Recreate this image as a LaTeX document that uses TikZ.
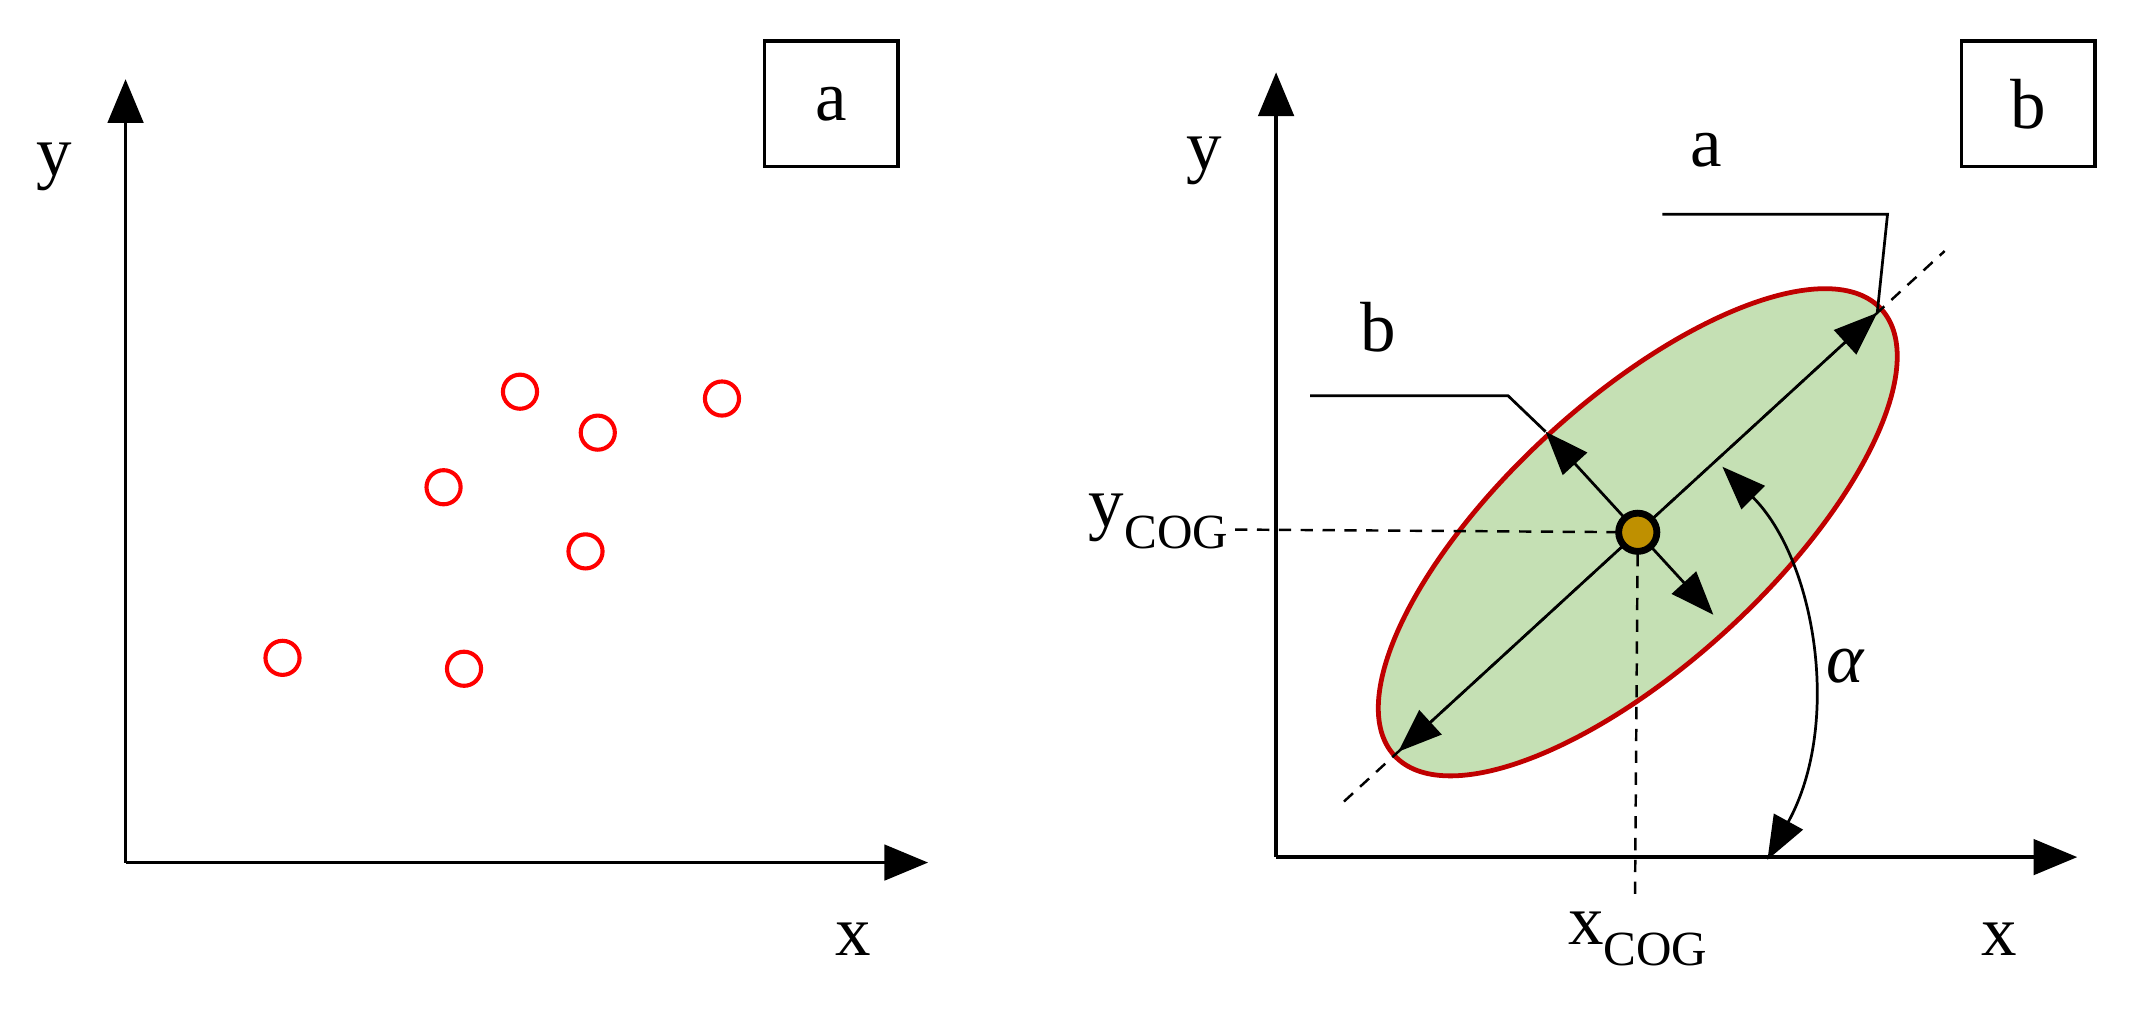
\documentclass[tikz,border=0pt]{standalone}
\usepackage{fontspec}
\setmainfont{Liberation Serif}
\usetikzlibrary{arrows.meta}
\definecolor{ellfill}{RGB}{197,224,180}
\definecolor{ellred}{RGB}{192,0,0}
\definecolor{cog}{RGB}{191,144,0}
\tikzset{
  ax/.style={line width=2.4pt,-{Triangle[length=32pt,width=26pt]}},
  dimarr/.style={line width=2pt,{Triangle[length=32pt,width=24pt]}-{Triangle[length=32pt,width=24pt]}},
  onearr/.style={line width=2pt,-{Triangle[length=32pt,width=24pt]}},
  thin line/.style={line width=2pt},
  dsh/.style={line width=1.8pt,dash pattern=on 9pt off 7pt},
  pt/.style={circle,draw=red,line width=3pt,minimum size=25pt,inner sep=0pt},
  lbl/.style={font=\fontsize{52}{56}\selectfont,inner sep=0pt},
  boxl/.style={draw,line width=2.4pt,minimum width=98pt,minimum height=92pt,font=\fontsize{52}{56}\selectfont},
}
\newcommand{\subCOG}{\raisebox{-0.3em}{\fontsize{36}{40}\selectfont COG}}
\begin{document}
\begin{tikzpicture}[x=1pt,y=-1pt]
\useasboundingbox (0,0) rectangle (1568,739);
% panel a
\coordinate (oa) at (92,632);
\coordinate (ya) at (92,58);
\coordinate (xa) at (680,632);
\draw[ax] (oa) -- (ya);
\draw[ax] (oa) -- (xa);
\node[boxl] (boxa) at (609,76) {a};
\node[lbl] (lya) at (40,122) {y};
\node[lbl] (lxa) at (625,688) {x};
\foreach \n/\p in {p1/{(207,482)},p2/{(340,490)},p3/{(325,357)},p4/{(381,287)},p5/{(438,317)},p6/{(429,404)},p7/{(529,292)}}
  \node[pt] (\n) at \p {};
% panel b
\coordinate (ob) at (935,628);
\coordinate (yb) at (935,53);
\coordinate (xb) at (1522,628);
\node[boxl] (boxb) at (1486,76) {b};
\node[lbl] (lyb) at (882,118) {y};
\node[lbl] (lxb) at (1465,688) {x};
\coordinate (c) at (1200,390);
\begin{scope}[shift={(c)},rotate=42.5]
  \draw[ellred,fill=ellfill,line width=3.5pt] (0,0) ellipse (242pt and 97pt);
  \coordinate (d1) at (-292,0);
  \coordinate (d2) at (305,0);
  \coordinate (ma1) at (-238,0);
  \coordinate (ma2) at (238,0);
  \coordinate (mi1) at (0,-100);
  \coordinate (mi2) at (0,82);
\end{scope}
\draw[ax] (ob) -- (yb);
\draw[ax] (ob) -- (xb);
\draw[dsh] (d1) -- (d2);
\draw[dsh] (905,388) -- (c);
\draw[dsh] (c) -- (1198,655);
\draw[dimarr] (ma1) -- (ma2);
\draw[onearr] (c) -- (mi1);
\draw[onearr] (c) -- (mi2);
% leaders
\coordinate (lb1) at (960,290);
\coordinate (lb2) at (1105,290);
\draw[thin line] (lb1) -- (lb2) -- (mi1);
\coordinate (la1) at (1218,157);
\coordinate (la2) at (1383,157);
\draw[thin line] (la1) -- (la2) -- (ma2);
\node[lbl] (la) at (1250,110) {a};
\node[lbl] (lb) at (1010,240) {b};
% alpha arc
\coordinate (al1) at (1262,342);
\coordinate (al2) at (1295,630);
\draw[dimarr] (al1) .. controls (1330,410) and (1350,530) .. (al2);
\node[lbl] (alpha) at (1352,488) {\itshape α};
% COG
\node[circle,fill=cog,draw=black,line width=5pt,minimum size=28pt,inner sep=0pt] (cogn) at (c) {};
\node[lbl,anchor=east] (lycog) at (900,382) {y\subCOG};
\node[lbl] (lxcog) at (1200,688) {x\subCOG};
\end{tikzpicture}
\end{document}
